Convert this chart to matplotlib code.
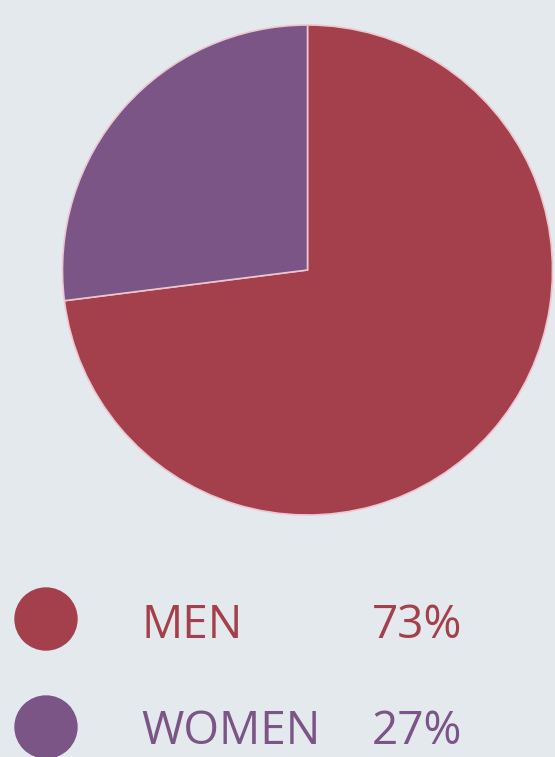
import matplotlib
matplotlib.use('Agg')
import matplotlib.pyplot as plt
from matplotlib.patches import Circle

# Daten
labels = ['MEN', 'WOMEN']
shares = [73, 27]
colors = ['#a3404b', '#7a5585']
bg = '#e4e9ee'

W, H = 555, 757
fig = plt.figure(figsize=(W / 100, H / 100), dpi=100, facecolor=bg)
ax = fig.add_axes([0, 0, 1, 1])

# Kreisdiagramm
ax.pie(shares, colors=colors, startangle=90, counterclock=False,
       center=(307.5, H - 270), radius=245, frame=True,
       wedgeprops=dict(edgecolor='#ecc6cf', linewidth=1.2))
ax.set_xlim(0, W)
ax.set_ylim(0, H)
ax.set_aspect('equal')
ax.axis('off')

# Legende
rows_y = [H - 619, H - 727]
base_y = [H - 638, H - 744]
for i, lab in enumerate(labels):
    ax.add_patch(Circle((46, rows_y[i]), 31, color=colors[i]))
    ax.text(141, base_y[i], lab, color=colors[i], fontsize=33,
            family='Open Sans', va='baseline', ha='left')
    ax.text(372, base_y[i], f'{shares[i]}%', color=colors[i], fontsize=33,
            family='Open Sans', va='baseline', ha='left')

fig.savefig('out.png', dpi=100, facecolor=bg)
